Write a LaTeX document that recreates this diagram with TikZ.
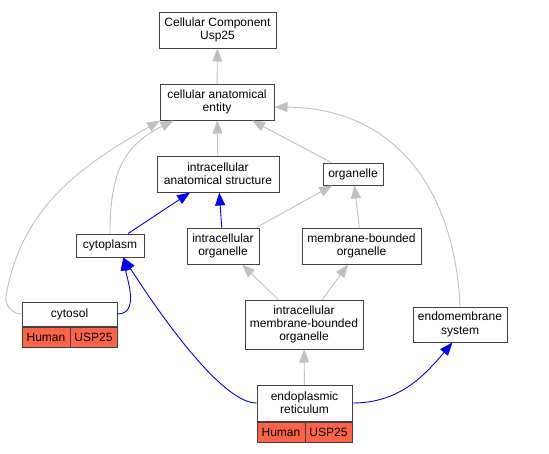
\documentclass[tikz,border=0pt]{standalone}
\usepackage{fontspec}
\setmainfont{Liberation Sans}
\usetikzlibrary{arrows.meta}
\definecolor{hitred}{HTML}{FF6347}
\definecolor{isagray}{HTML}{C0C0C0}
\begin{document}
\begin{tikzpicture}[x=1pt,y=1pt,
  term/.style={draw=black!75,line width=1pt,fill=white,align=center,inner sep=2pt,
    font=\fontsize{12}{13.3}\selectfont},
  hit/.style={term,fill=hitred,minimum height=20},
  isa/.style={draw=isagray,line width=0.9pt,-{Triangle[length=13pt,width=10pt,fill=isagray]}},
  part/.style={draw=blue,line width=0.9pt,-{Triangle[length=13pt,width=10pt,fill=blue]}}]
\useasboundingbox (0,0) rectangle (549,-453);
%terms
\node[term,minimum width=117,minimum height=36] (cc) at (217.5,-30) {Cellular Component\\Usp25};
\node[term,minimum width=114,minimum height=36] (cae) at (217,-102) {cellular anatomical\\entity};
\node[term,minimum width=122,minimum height=36] (ias) at (218,-174) {intracellular\\anatomical structure};
\node[term,minimum width=60,minimum height=22] (organelle) at (353,-174) {organelle};
\node[term,minimum width=68,minimum height=23] (cytoplasm) at (110,-245.5) {cytoplasm};
\node[term,minimum width=72,minimum height=36] (io) at (223,-246) {intracellular\\organelle};
\node[term,minimum width=119,minimum height=36] (mbo) at (361.5,-246) {membrane-bounded\\organelle};
\node[term,minimum width=118,minimum height=49] (imbo) at (304,-324.5) {intracellular\\membrane-bounded\\organelle};
\node[term,minimum width=94,minimum height=35] (ems) at (460,-324.5) {endomembrane\\system};
%annotated terms
\node[term,minimum width=95,minimum height=24] (cytosol) at (69.5,-314) {cytosol};
\node[hit,anchor=north west,minimum width=48] (cytosolH) at (cytosol.south west) {Human};
\node[hit,anchor=north east,minimum width=47] (cytosolU) at (cytosol.south east) {USP25};
\node[term,minimum width=95,minimum height=36] (er) at (304.5,-403) {endoplasmic\\reticulum};
\node[hit,anchor=north west,minimum width=48] (erH) at (er.south west) {Human};
\node[hit,anchor=north east,minimum width=47] (erU) at (er.south east) {USP25};
%is_a
\draw[isa] (cae) -- (cc);
\draw[isa] (ias) -- (cae);
\draw[isa] (organelle) -- (cae);
\draw[isa] (io) -- (organelle);
\draw[isa] (mbo) -- (organelle);
\draw[isa] (imbo) -- (io);
\draw[isa] (imbo) -- (mbo);
\draw[isa] (er) -- (imbo);
\draw[isa] (cytoplasm.north) .. controls (110,-170) and (125,-145) .. (cae.203);
\draw[isa] (cytosol.west) to[out=180,in=-100] (6,-296) to[out=80,in=-150] (cae.198);
\draw[isa] (ems.north) .. controls (455,-190) and (395,-108) .. (cae.-5);
%part_of
\draw[part] (cytoplasm) -- (ias);
\draw[part] (io) -- (ias);
\draw[part] (cytosol.east) to[out=0,in=-80] (cytoplasm.-42);
\draw[part] (er.west) .. controls (225,-403) and (170,-330) .. (cytoplasm.-42);
\draw[part] (er.east) to[out=0,in=-130] (ems.-113);
\end{tikzpicture}
\end{document}
